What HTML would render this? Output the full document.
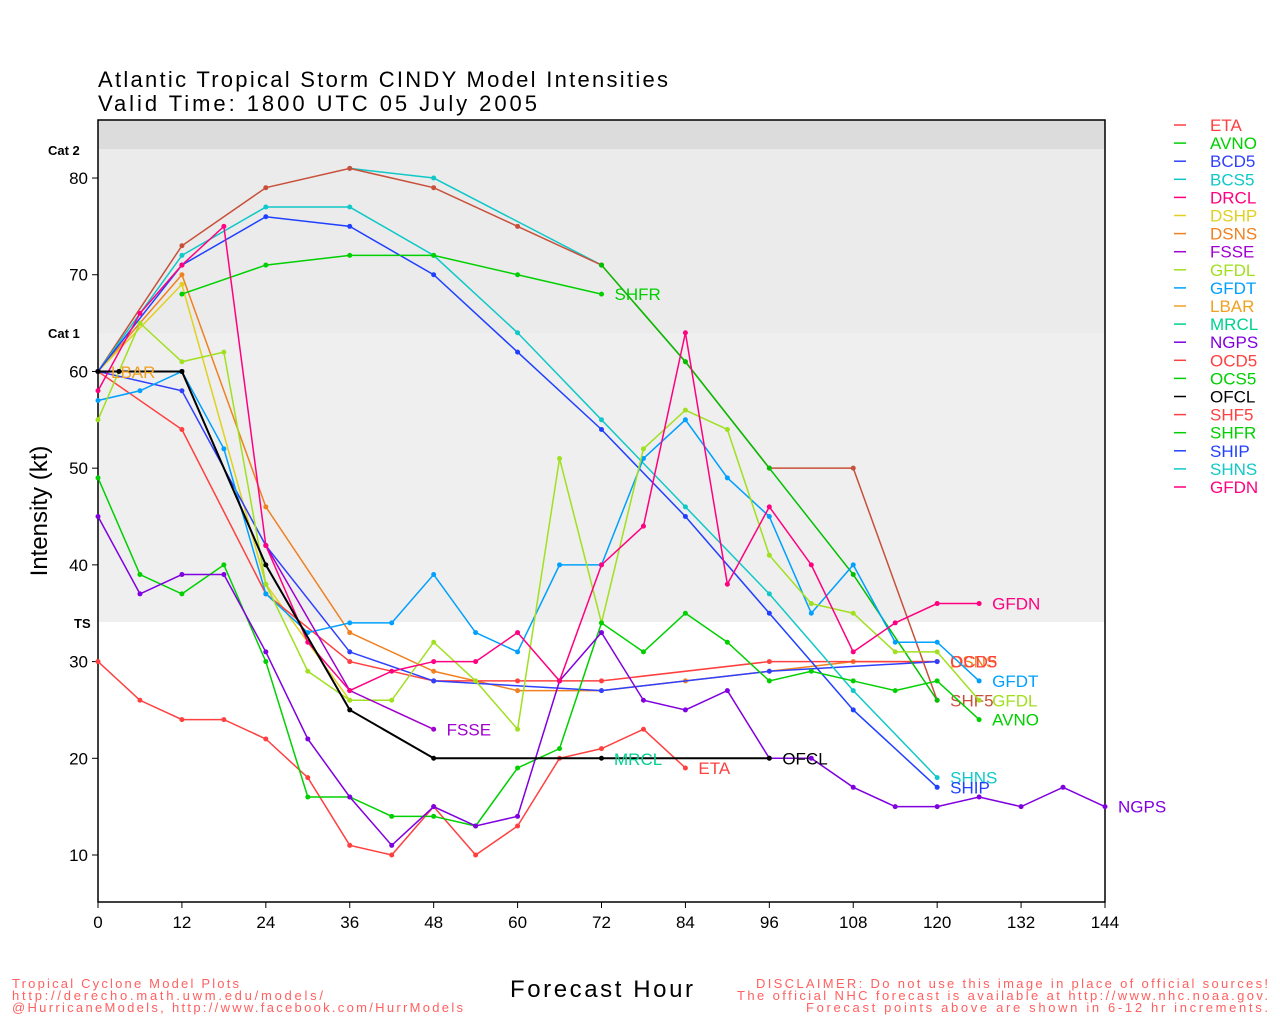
<!DOCTYPE html><html><head><style>body{margin:0;background:#fff}svg{display:block}text{font-family:"Liberation Sans",sans-serif}</style></head><body>
<svg id="s" width="1280" height="1024" xmlns="http://www.w3.org/2000/svg">
<rect x="98" y="120" width="1007" height="782" fill="#ebebeb"/>
<rect x="98" y="120" width="1007" height="29" fill="#dcdcdc"/>
<rect x="98" y="622" width="1007" height="280" fill="#fff"/>
<rect x="98" y="333" width="1007" height="289" fill="#efefef"/>
<rect x="98" y="120" width="1007" height="782" fill="none" stroke="#000" stroke-width="1.5"/>
<text x="98" y="87" font-size="22" textLength="570" lengthAdjust="spacing">Atlantic Tropical Storm CINDY Model Intensities</text>
<text x="98" y="111" font-size="22" textLength="439" lengthAdjust="spacing">Valid Time: 1800 UTC 05 July 2005</text>
<text x="48" y="155" font-size="13" font-weight="bold">Cat 2</text>
<text x="48" y="338" font-size="13" font-weight="bold">Cat 1</text>
<text x="74" y="628" font-size="13" font-weight="bold">TS</text>
<text transform="translate(47,511) rotate(-90)" font-size="24" text-anchor="middle">Intensity (kt)</text>
<text x="510" y="997" font-size="24" textLength="183" lengthAdjust="spacing">Forecast Hour</text>
<g font-size="13" fill="#ff6060"><text x="12" y="988" textLength="227" lengthAdjust="spacing">Tropical Cyclone Model Plots</text><text x="12" y="1000" textLength="311" lengthAdjust="spacing">http://derecho.math.uwm.edu/models/</text><text x="12" y="1012" textLength="451" lengthAdjust="spacing">@HurricaneModels, http://www.facebook.com/HurrModels</text>
<text x="756" y="988" textLength="512" lengthAdjust="spacing">DISCLAIMER: Do not use this image in place of official sources!</text><text x="737" y="1000" textLength="531" lengthAdjust="spacing">The official NHC forecast is available at http://www.nhc.noaa.gov.</text><text x="806" y="1012" textLength="462" lengthAdjust="spacing">Forecast points above are shown in 6-12 hr increments.</text></g>
<g id="g"></g>
</svg>
<script>
var g=document.getElementById('g'),NS='http://www.w3.org/2000/svg';
function X(h){return 98+h*6.993}function Y(v){return 855-(v-10)*9.671}
function el(t,a,txt){var e=document.createElementNS(NS,t);for(var k in a)e.setAttribute(k,a[k]);if(txt!==undefined)e.textContent=String(txt);g.appendChild(e);return e}
for(var v=10;v<=80;v+=10){el('line',{x1:92,x2:98,y1:Y(v),y2:Y(v),stroke:'#000'});el('text',{x:88,y:Y(v)+6,'font-size':17,'text-anchor':'end'},v)}
for(var h=0;h<=144;h+=12){el('line',{x1:X(h),x2:X(h),y1:902,y2:908,stroke:'#000'});el('text',{x:X(h),y:928,'font-size':17,'text-anchor':'middle'},h)}
var S=[
['DSNS','#f08020',[[0,60],[12,70],[24,46],[36,33],[48,29],[60,27],[72,27],[84,28],[96,29],[108,30],[120,30]],'DSNS'],
['DSHP','#e0d020',[[0,60],[12,69],[24,38],[36,26]],null],
['OCD5','#ff4040',[[0,60],[12,54],[24,37],[36,30],[48,28],[60,28],[72,28],[96,30],[120,30]],'OCD5'],
['BCD5','#3040ff',[[0,60],[12,58],[24,42],[36,31],[48,28],[72,27],[96,29],[120,30]],null],
['BCS5','#10c8c8',[[36,81],[48,80],[72,71]],null],
['SHF5','#c8503a',[[0,60],[12,73],[24,79],[36,81],[48,79],[60,75],[72,71],[84,61],[96,50],[108,50],[120,26]],'SHF5'],
['SHNS','#10c8c8',[[0,60],[12,72],[24,77],[36,77],[48,72],[60,64],[72,55],[84,46],[96,37],[108,27],[120,18]],'SHNS'],
['SHIP','#2040ff',[[0,60],[12,71],[24,76],[36,75],[48,70],[60,62],[72,54],[84,45],[96,35],[108,25],[120,17]],'SHIP'],
['SHFR','#00d000',[[12,68],[24,71],[36,72],[48,72],[60,70],[72,68]],'SHFR'],
['SHFRt','#00c000',[[72,71],[84,61],[96,50],[108,39],[120,26]],null],
['GFDT','#00a0ff',[[0,57],[6,58],[12,60],[18,52],[24,37],[30,33],[36,34],[42,34],[48,39],[54,33],[60,31],[66,40],[72,40],[78,51],[84,55],[90,49],[96,45],[102,35],[108,40],[114,32],[120,32],[126,28]],'GFDT'],
['GFDL','#a0e020',[[0,55],[6,65],[12,61],[18,62],[24,38],[30,29],[36,26],[42,26],[48,32],[54,28],[60,23],[66,51],[72,34],[78,52],[84,56],[90,54],[96,41],[102,36],[108,35],[114,31],[120,31],[126,26]],'GFDL'],
['FSSE','#a000d0',[[24,42],[36,27],[48,23]],'FSSE'],
['ETA','#ff4040',[[0,30],[6,26],[12,24],[18,24],[24,22],[30,18],[36,11],[42,10],[48,15],[54,10],[60,13],[66,20],[72,21],[78,23],[84,19]],'ETA'],
['AVNO','#00d000',[[0,49],[6,39],[12,37],[18,40],[24,30],[30,16],[36,16],[42,14],[48,14],[54,13],[60,19],[66,21],[72,34],[78,31],[84,35],[90,32],[96,28],[102,29],[108,28],[114,27],[120,28],[126,24]],'AVNO'],
['NGPS','#8000e0',[[0,45],[6,37],[12,39],[18,39],[24,31],[30,22],[36,16],[42,11],[48,15],[54,13],[60,14],[66,28],[72,33],[78,26],[84,25],[90,27],[96,20],[102,20],[108,17],[114,15],[120,15],[126,16],[132,15],[138,17],[144,15]],'NGPS'],
['GFDN','#ff0080',[[0,58],[6,66],[12,71],[18,75],[24,42],[30,32],[36,27],[42,29],[48,30],[54,30],[60,33],[66,28],[72,40],[78,44],[84,64],[90,38],[96,46],[102,40],[108,31],[114,34],[120,36],[126,36]],'GFDN'],
['OFCL','#000',[[0,60],[3,60],[12,60],[24,40],[36,25],[48,20],[72,20],[96,20]],'OFCL']
];
S.forEach(function(s){var p=s[2].map(function(q){return X(q[0])+','+Y(q[1])}).join(' ');
el('polyline',{points:p,fill:'none',stroke:s[1],'stroke-width':s[0]=='OFCL'?2:1.5});
s[2].forEach(function(q){el('circle',{cx:X(q[0]),cy:Y(q[1]),r:2.5,fill:s[1]})});
if(s[3]){var l=s[2][s[2].length-1];el('text',{x:X(l[0])+13,y:Y(l[1])+6,'font-size':17,fill:s[1]},s[3])}});
el('text',{x:111,y:378,'font-size':17,fill:'#f0a020'},'LBAR');
el('text',{x:614,y:765,'font-size':17,fill:'#00d090'},'MRCL');
var L=[['ETA','#ff4040'],['AVNO','#00d000'],['BCD5','#3040ff'],['BCS5','#10c8c8'],['DRCL','#ff0080'],['DSHP','#e0d020'],['DSNS','#f08020'],['FSSE','#a000d0'],['GFDL','#a0e020'],['GFDT','#00a0ff'],['LBAR','#f0a020'],['MRCL','#00d090'],['NGPS','#8000e0'],['OCD5','#ff4040'],['OCS5','#00d000'],['OFCL','#000'],['SHF5','#ff4040'],['SHFR','#00d000'],['SHIP','#2040ff'],['SHNS','#10c8c8'],['GFDN','#ff0080']];
L.forEach(function(a,i){var y=125+i*18.1;el('line',{x1:1174,x2:1186,y1:y,y2:y,stroke:a[1],'stroke-width':1.5});el('text',{x:1210,y:y+6,'font-size':17,fill:a[1]},a[0])});
</script></body></html>
